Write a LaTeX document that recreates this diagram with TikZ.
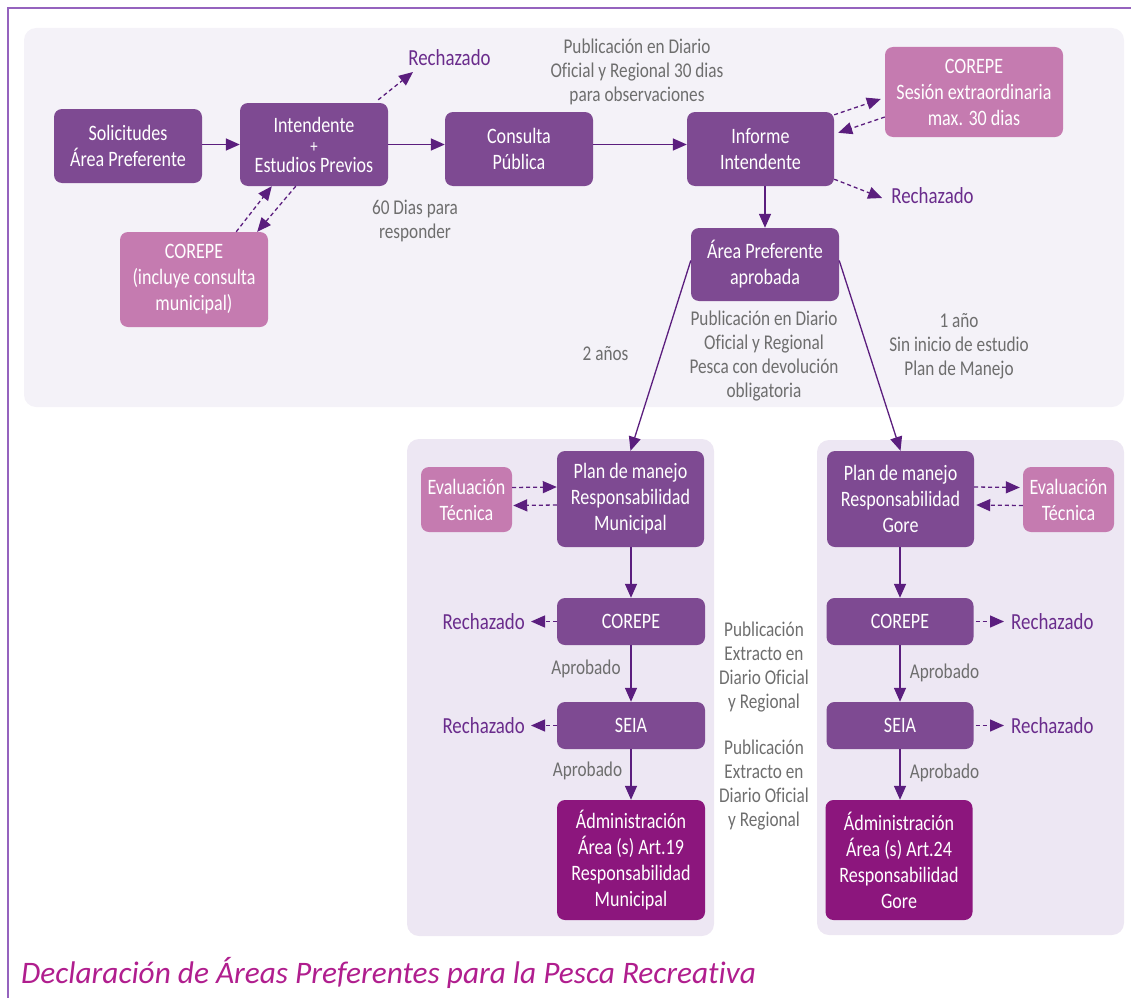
\documentclass[tikz,border=0pt]{standalone}
\usepackage{fontspec}
\setmainfont[Ligatures=NoCommon]{Carlito}
\newfontfamily\condfont[FakeStretch=0.82,Ligatures=NoCommon]{Carlito}
\usetikzlibrary{arrows.meta,calc}
\definecolor{boxc}{HTML}{7E4A92}
\definecolor{pinkc}{HTML}{C57BB0}
\definecolor{admc}{HTML}{8C167D}
\definecolor{arrc}{HTML}{5B1E7E}
\definecolor{rejc}{HTML}{6A2C8C}
\definecolor{grayc}{HTML}{6E6E6E}
\definecolor{toppan}{HTML}{F4F2F8}
\definecolor{botpan}{HTML}{EDE7F3}
\definecolor{framec}{HTML}{9563BE}
\definecolor{titlec}{HTML}{B01E8E}
\newcommand{\myNodeFont}{\condfont\fontsize{22}{26}\selectfont}
\newcommand{\myLblFont}{\condfont\fontsize{21}{24}\selectfont}
\newcommand{\myRejFont}{\condfont\fontsize{23}{26}\selectfont}
\tikzset{
  box/.style={rectangle, rounded corners=8pt, fill=boxc, text=white, inner sep=0pt, align=center, font=\myNodeFont},
  pinkbox/.style={box, fill=pinkc},
  admbox/.style={box, fill=admc},
  lbl/.style={text=grayc, align=center, font=\myLblFont, inner sep=0pt},
  rej/.style={text=rejc, font=\myRejFont, inner sep=0pt},
  arr/.style={draw=arrc, line width=1.5pt, -{Triangle[length=14pt,width=12pt]}},
  darr/.style={arr, line width=1.3pt, dash pattern=on 4pt off 3pt},
  panelstyle/.style={rounded corners=12pt},
}
\begin{document}
\begin{tikzpicture}[x=1pt,y=-1pt]
\useasboundingbox (0,0) rectangle (1131,998);
% frame
\draw[framec, line width=1.5pt] (1131,8) -- (8,8) -- (8,998);
% panels
\fill[toppan, panelstyle] (24,28) rectangle (1124,407);
\fill[botpan, panelstyle] (407,439) rectangle (714,936);
\fill[botpan, panelstyle] (817,440) rectangle (1124,935);

% top row nodes
\node[box, minimum width=148pt, minimum height=74pt] (sol) at (128,146) {Solicitudes\\Área Preferente};
\node[box, minimum width=148pt, minimum height=83pt] (inte) at (314,144.5) {Intendente\\[-6pt]{\fontsize{18}{26}\selectfont +}\\[-6pt]Estudios Previos};
\node[pinkbox, minimum width=148pt, minimum height=95pt] (corA) at (194,279.5) {COREPE\\(incluye consulta\\municipal)};
\node[box, minimum width=148pt, minimum height=74pt] (cons) at (519,149) {Consulta\\Pública};
\node[box, minimum width=147pt, minimum height=74pt] (inf) at (760.5,149) {Informe\\Intendente};
\node[pinkbox, minimum width=178pt, minimum height=90pt] (corB) at (974,92) {COREPE\\Sesión extraordinaria\\max. 30 dias};
\node[box, minimum width=148pt, minimum height=73pt] (area) at (765,264.5) {Área Preferente\\aprobada};

\node[rej] (rejT) at (449.5,58) {Rechazado};
\node[rej] (rejB) at (932.5,196) {Rechazado};

\node[lbl] (pubA) at (637,71.5) {Publicación en Diario\\Oficial y Regional 30 dias\\para observaciones};
\node[lbl] (dias) at (415,221) {60 Dias para\\responder};
\node[lbl] (pubB) at (764,356) {Publicación en Diario\\Oficial y Regional\\Pesca con devolución\\obligatoria};
\node[lbl] (anos) at (605.5,354) {2 años};
\node[lbl] (ano) at (959,346.5) {1 año\\Sin inicio de estudio\\Plan de Manejo};

% bottom left column
\node[box, minimum width=147pt, minimum height=96pt] (plM) at (630.5,499) {Plan de manejo\\Responsabilidad\\Municipal};
\node[pinkbox, minimum width=91pt, minimum height=65pt] (evM) at (466.5,499.5) {Evaluación\\Técnica};
\node[box, minimum width=148pt, minimum height=47pt] (coM) at (631,621.5) {COREPE};
\node[box, minimum width=148pt, minimum height=47pt] (seM) at (631,725.5) {SEIA};
\node[admbox, minimum width=148pt, minimum height=120pt] (adM) at (631,860) {Ádministración\\Área (s) Art.19\\Responsabilidad\\Municipal};
\node[rej, anchor=east] (rejM1) at (525,621.5) {Rechazado};
\node[rej, anchor=east] (rejM2) at (525,725.5) {Rechazado};
\node[lbl] (apM1) at (586,669) {Aprobado};
\node[lbl] (apM2) at (587.5,771) {Aprobado};

% middle labels
\node[lbl] (extA) at (764,667) {Publicación\\Extracto en\\Diario Oficial\\y Regional};
\node[lbl] (extB) at (764,785) {Publicación\\Extracto en\\Diario Oficial\\y Regional};

% bottom right column
\node[box, minimum width=147pt, minimum height=96pt] (plG) at (900.5,499) {Plan de manejo\\Responsabilidad\\Gore};
\node[pinkbox, minimum width=91pt, minimum height=65pt] (evG) at (1068.5,499.5) {Evaluación\\Técnica};
\node[box, minimum width=147pt, minimum height=47pt] (coG) at (900,621.5) {COREPE};
\node[box, minimum width=147pt, minimum height=47pt] (seG) at (900,725.5) {SEIA};
\node[admbox, minimum width=147pt, minimum height=120pt] (adG) at (899,860) {Ádministración\\Área (s) Art.24\\Responsabilidad\\Gore};
\node[rej, anchor=west] (rejG1) at (1011,621.5) {Rechazado};
\node[rej, anchor=west] (rejG2) at (1011,725.5) {Rechazado};
\node[lbl] (apG1) at (944.5,673) {Aprobado};
\node[lbl] (apG2) at (944.5,773) {Aprobado};

% title
\node[anchor=base west, inner sep=0pt, text=titlec, font={\fontsize{31.3}{36}\selectfont\itshape}] (title) at (21,983) {Declaración de Áreas Preferentes para la Pesca Recreativa};

% coordinates for free ends
\coordinate (tRejT) at (413,72);

% connectors top
\draw[arr] (sol.east |- inte.east) -- (inte.west);
\draw[arr] (inte.east) -- (inte.east -| cons.west);
\draw[arr] (cons.east |- inte.east) -- (inf.west |- inte.east);
\draw[arr] (area.north |- inf.south) -- (area.north);
\draw[darr] ([xshift=-10pt,yshift=3pt]inte.north east) -- (tRejT);
\draw[darr] ([xshift=-32pt]corA.north east) -- ([xshift=32pt]inte.south west);
\draw[darr] ([xshift=56pt]inte.south west) -- ([xshift=-11pt]corA.north east);
\draw[darr] ([yshift=-3pt]inf.north east) -- ([xshift=-4pt,yshift=-7pt]corB.west);
\draw[darr] ([yshift=-25pt]corB.west) -- ([xshift=4pt,yshift=-21pt]inf.north east);
\draw[darr] ([yshift=7pt]inf.south east) -- ([xshift=-9pt,yshift=-2pt]rejB.west);
\draw[arr, line width=1.3pt] ([yshift=4pt]area.west) -- (plM.north);
\draw[arr, line width=1.3pt] ([yshift=4pt]area.east) -- (plG.north);

% connectors bottom left
\draw[darr] ([yshift=12pt]evM.east) -- ([yshift=12pt]plM.west);
\draw[darr] ([yshift=-6pt]plM.west) -- ([yshift=-6pt,xshift=1pt]evM.east);
\draw[arr] (plM.south -| coM.north) -- (coM.north);
\draw[arr] (coM.south) -- (seM.north);
\draw[arr] (seM.south) -- (adM.north);
\draw[darr] (coM.west) -- ([xshift=6pt]rejM1.east);
\draw[darr] (seM.west) -- ([xshift=6pt]rejM2.east);

% connectors bottom right
\draw[darr] ([yshift=12pt]plG.east) -- ([yshift=12pt,xshift=-3pt]evG.west);
\draw[darr] ([yshift=-6pt]evG.west) -- ([yshift=-6pt,xshift=2pt]plG.east);
\draw[arr] (plG.south -| coG.north) -- (coG.north);
\draw[arr] (coG.south) -- (seG.north);
\draw[arr] (seG.south) -- (seG.south |- adG.north);
\draw[darr] ([xshift=2pt]coG.east) -- ([xshift=-7pt]rejG1.west);
\draw[darr] ([xshift=2pt]seG.east) -- ([xshift=-7pt]rejG2.west);
\end{tikzpicture}
\end{document}
